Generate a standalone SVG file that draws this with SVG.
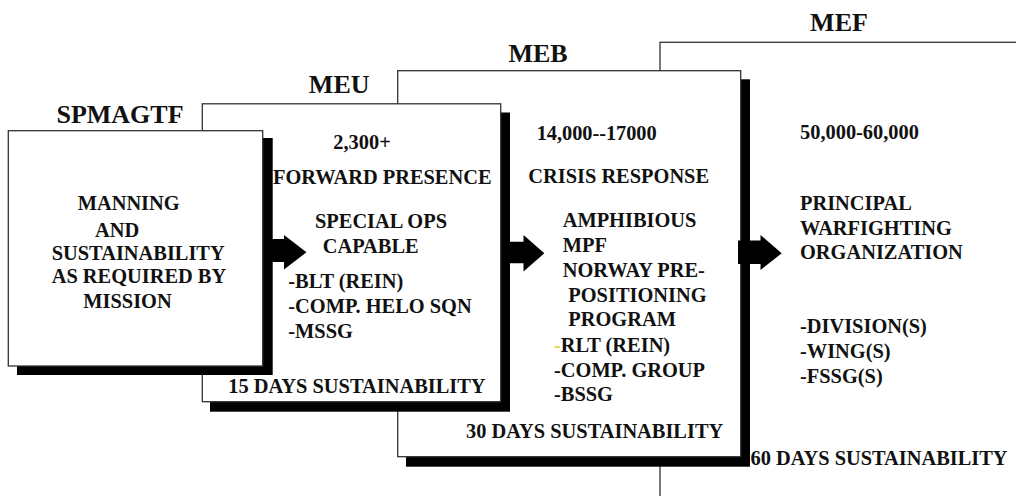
<svg xmlns="http://www.w3.org/2000/svg" width="1016" height="496" viewBox="0 0 1016 496">
<style>
.box{fill:#fff;stroke:#333;stroke-width:1.3}
.sh{fill:#000}
.t{font-family:"Liberation Serif","DejaVu Serif",serif;font-weight:bold;font-size:20.4px;fill:#111}
.ttl{font-family:"Liberation Serif","DejaVu Serif",serif;font-weight:bold;font-size:26px;fill:#111;text-anchor:middle}
.arr{fill:#000}
</style>
<rect width="1016" height="496" fill="#fff"/>
<g id="mef">
<rect class="box" x="660" y="42.3" width="400" height="500"/>
<text class="ttl" x="839" y="31">MEF</text>
<text class="t" x="800" y="139">50,000-60,000</text>
<text class="t" x="800" y="210">PRINCIPAL</text>
<text class="t" x="800" y="235">WARFIGHTING</text>
<text class="t" x="800" y="259.3">ORGANIZATION</text>
<text class="t" x="800" y="333.3">-DIVISION(S)</text>
<text class="t" x="800" y="358.3">-WING(S)</text>
<text class="t" x="800" y="383.3">-FSSG(S)</text>
<text class="t" x="750.5" y="465" textLength="257" lengthAdjust="spacingAndGlyphs">60 DAYS SUSTAINABILITY</text>
</g>
<g id="meb">
<rect class="sh" x="406" y="79.3" width="344" height="387.4"/>
<rect class="box" x="397.7" y="70.7" width="343" height="386"/>
<text class="ttl" x="538" y="61.7">MEB</text>
<text class="t" x="536.7" y="140" textLength="120" lengthAdjust="spacing">14,000--17000</text>
<text class="t" x="528.3" y="183.3">CRISIS RESPONSE</text>
<text class="t" x="562.7" y="227.3">AMPHIBIOUS</text>
<text class="t" x="562.7" y="252.3">MPF</text>
<text class="t" x="562.7" y="276.7">NORWAY PRE-</text>
<text class="t" x="568.3" y="301.7">POSITIONING</text>
<text class="t" x="568.3" y="326">PROGRAM</text>
<text class="t" x="554" y="351.7"><tspan fill="#e2d84a">-</tspan>RLT (REIN)</text>
<text class="t" x="554" y="376.7">-COMP. GROUP</text>
<text class="t" x="554" y="400.7">-BSSG</text>
<text class="t" x="466" y="438.3">30 DAYS SUSTAINABILITY</text>
</g>
<g id="meu">
<rect class="sh" x="210" y="112.5" width="300" height="299.2"/>
<rect class="box" x="202.3" y="103.8" width="298.4" height="297.9"/>
<text class="ttl" x="339.2" y="93.3">MEU</text>
<text class="t" x="333.3" y="149.3">2,300+</text>
<text class="t" x="273" y="183.5">FORWARD PRESENCE</text>
<text class="t" x="315" y="228.3">SPECIAL OPS</text>
<text class="t" x="322.7" y="252.7">CAPABLE</text>
<text class="t" x="288.3" y="288.3">-BLT (REIN)</text>
<text class="t" x="288.3" y="313.3">-COMP. HELO SQN</text>
<text class="t" x="288.3" y="338.3">-MSSG</text>
<text class="t" x="228.3" y="393.3">15 DAYS SUSTAINABILITY</text>
</g>
<g id="spmagtf">
<rect class="sh" x="17" y="138" width="255.7" height="237"/>
<rect class="box" x="8.3" y="130.7" width="254.4" height="235.3"/>
<text class="ttl" x="120" y="123">SPMAGTF</text>
<text class="t" x="77.7" y="210">MANNING</text>
<text class="t" x="95" y="236.7">AND</text>
<text class="t" x="51.7" y="260">SUSTAINABILITY</text>
<text class="t" x="51.7" y="283.3">AS REQUIRED BY</text>
<text class="t" x="83.3" y="308.3">MISSION</text>
</g>
<g id="connectors">
<polygon class="arr" points="272,239 284,239 284,235 306.5,252.3 284,269.5 284,262 272,262"/>
<polygon class="arr" points="509,241.7 523.5,241.7 523.5,235 544.3,253.3 523.5,271.5 523.5,263.3 509,263.3"/>
<polygon class="arr" points="738,240.5 760.5,240.5 760.5,235 781.7,253.3 760.5,270 760.5,264 738,264"/>
</g>
</svg>
